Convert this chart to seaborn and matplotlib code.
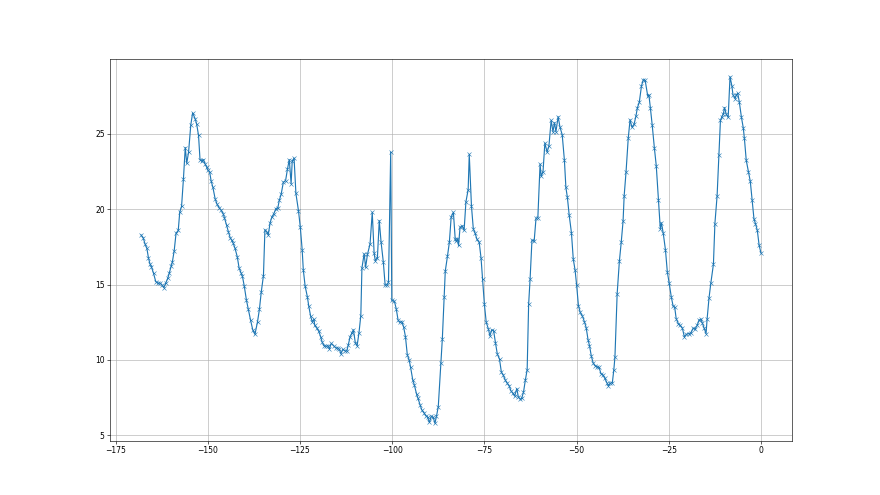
import matplotlib
matplotlib.use("Agg")
import matplotlib.pyplot as plt
import seaborn as sns
import pandas as pd

hours = [
    -168.1, -167.5, -167.0, -166.5, -166.1, -165.7, -165.3, -164.7, -164.1, -163.5,
    -162.9, -162.5, -161.9, -161.4, -160.8, -160.4, -159.9, -159.6, -159.1, -158.6,
    -158.0, -157.6, -157.1, -156.6, -156.1, -155.7, -155.2, -154.6, -154.1, -153.4,
    -153.0, -152.5, -152.1, -151.6, -151.2, -150.7, -150.3, -150.0, -149.5, -149.1,
    -148.6, -148.0, -147.5, -146.9, -146.4, -145.8, -145.5, -144.9, -144.4, -143.9,
    -143.5, -143.1, -142.6, -142.0, -141.5, -141.0, -140.6, -140.1, -139.5, -139.0,
    -138.4, -137.8, -137.2, -136.5, -136.0, -135.5, -134.9, -134.5, -134.0, -133.6,
    -133.1, -132.6, -132.1, -131.5, -131.0, -130.6, -130.1, -129.5, -128.9, -128.4,
    -127.9, -127.4, -127.1, -126.6, -126.1, -125.4, -124.9, -124.4, -124.1, -123.6,
    -123.0, -122.6, -122.1, -121.7, -121.2, -121.0, -120.4, -119.9, -119.4, -119.0,
    -118.5, -117.9, -117.4, -117.0, -116.5, -115.9, -115.3, -114.8, -114.3, -113.9,
    -113.4, -112.8, -112.3, -111.9, -111.4, -110.9, -110.5, -110.0, -109.5, -109.0,
    -108.5, -108.2, -107.6, -107.2, -106.7, -106.0, -105.4, -104.9, -104.6, -104.0,
    -103.5, -103.0, -102.4, -101.9, -101.4, -101.0, -100.4, -100.1, -99.4, -98.9,
    -98.4, -98.0, -97.4, -96.9, -96.4, -95.9, -95.4, -95.0, -94.4, -94.0,
    -93.4, -93.0, -92.4, -92.0, -91.4, -90.9, -90.4, -89.9, -89.4, -88.9,
    -88.4, -88.0, -87.5, -86.8, -86.4, -85.9, -85.6, -85.0, -84.5, -84.0,
    -83.4, -82.9, -82.6, -82.3, -82.0, -81.6, -81.0, -80.5, -80.0, -79.4,
    -79.1, -78.5, -78.0, -77.5, -77.0, -76.4, -75.9, -75.5, -75.0, -74.5,
    -73.9, -73.5, -73.0, -72.5, -72.0, -71.5, -70.9, -70.4, -69.9, -69.3,
    -68.8, -68.3, -67.8, -67.3, -66.8, -66.2, -65.8, -65.3, -64.9, -64.4,
    -63.9, -63.4, -63.0, -62.6, -62.1, -61.5, -61.0, -60.5, -59.9, -59.6,
    -59.1, -58.6, -58.0, -57.5, -56.9, -56.4, -56.0, -55.6, -55.0, -54.5,
    -53.9, -53.3, -52.9, -52.5, -52.0, -51.4, -50.9, -50.4, -50.0, -49.5,
    -49.0, -48.4, -47.9, -47.4, -46.9, -46.5, -46.0, -45.5, -44.9, -44.4,
    -43.9, -43.4, -42.8, -42.4, -41.8, -41.4, -40.9, -40.3, -39.9, -39.6,
    -39.0, -38.4, -37.9, -37.4, -37.1, -36.6, -36.0, -35.5, -35.0, -34.4,
    -33.9, -33.5, -33.0, -32.4, -31.9, -31.4, -30.7, -30.4, -30.0, -29.5,
    -28.9, -28.4, -27.8, -27.3, -27.0, -26.5, -25.9, -25.4, -24.9, -24.3,
    -23.8, -23.4, -23.0, -22.4, -21.9, -21.3, -20.8, -20.2, -19.6, -19.0,
    -18.4, -17.9, -17.3, -16.8, -16.3, -15.9, -15.4, -14.9, -14.6, -14.1,
    -13.6, -12.9, -12.5, -11.9, -11.4, -11.0, -10.6, -10.2, -9.9, -9.4,
    -8.9, -8.4, -7.9, -7.6, -7.0, -6.7, -6.3, -5.9, -5.3, -4.8,
    -4.5, -4.0, -3.4, -2.9, -2.4, -1.9, -1.5, -1.0, -0.5, 0.0,
]

values = [
    18.3, 18.1, 17.7, 17.4, 16.8, 16.4, 16.2, 15.75, 15.2, 15.1,
    15.1, 15.0, 14.8, 15.1, 15.45, 15.8, 16.25, 16.5, 17.25, 18.4,
    18.6, 19.8, 20.2, 22.0, 24.1, 23.05, 23.8, 25.6, 26.4, 26.0,
    25.65, 24.9, 23.3, 23.2, 23.3, 23.0, 22.8, 22.6, 22.5, 21.9,
    21.45, 20.7, 20.35, 20.1, 19.95, 19.7, 19.45, 18.95, 18.5, 18.1,
    17.95, 17.75, 17.4, 16.85, 16.1, 15.8, 15.55, 14.9, 13.95, 13.35,
    12.65, 12.0, 11.7, 12.55, 13.35, 14.5, 15.6, 18.65, 18.5, 18.3,
    19.1, 19.5, 19.7, 20.05, 20.1, 20.6, 21.0, 21.8, 21.9, 22.65,
    23.3, 21.7, 23.2, 23.4, 21.05, 19.9, 18.8, 17.3, 16.0, 14.9,
    14.2, 13.55, 12.9, 12.55, 12.7, 12.3, 12.1, 11.9, 11.55, 11.2,
    10.95, 10.9, 10.95, 10.75, 11.1, 10.95, 10.8, 10.8, 10.7, 10.4,
    10.7, 10.6, 10.6, 11.0, 11.55, 11.8, 12.0, 11.15, 10.95, 11.8,
    12.95, 16.1, 17.05, 16.15, 17.0, 17.7, 19.8, 17.1, 16.6, 16.8,
    19.25, 17.8, 16.5, 14.95, 15.0, 15.15, 23.8, 13.95, 13.9, 13.4,
    12.65, 12.5, 12.55, 12.2, 11.55, 10.35, 10.0, 9.5, 8.65, 8.35,
    7.75, 7.45, 7.0, 6.7, 6.5, 6.3, 6.2, 5.85, 6.25, 6.2,
    5.8, 6.25, 6.9, 9.8, 11.4, 14.2, 15.9, 16.9, 17.8, 19.5,
    19.8, 18.0, 17.9, 18.05, 17.6, 18.8, 18.9, 18.6, 20.5, 21.3,
    23.65, 20.2, 18.7, 18.4, 18.0, 17.8, 16.75, 15.35, 13.7, 12.5,
    12.05, 11.6, 12.0, 11.95, 11.15, 10.4, 10.05, 9.2, 9.0, 8.65,
    8.45, 8.3, 7.95, 7.8, 7.6, 8.1, 7.55, 7.4, 7.45, 7.85,
    8.65, 9.35, 13.7, 15.4, 17.95, 17.9, 19.4, 19.45, 23.0, 22.2,
    22.5, 24.4, 23.8, 24.2, 25.9, 25.15, 25.75, 25.15, 26.15, 25.45,
    24.95, 23.25, 21.45, 20.8, 19.6, 18.45, 16.7, 15.95, 15.0, 13.6,
    13.15, 12.9, 12.55, 12.15, 11.35, 10.95, 10.25, 9.8, 9.6, 9.55,
    9.5, 9.1, 9.0, 8.8, 8.5, 8.3, 8.45, 8.5, 9.35, 10.2,
    14.4, 16.55, 17.8, 19.2, 20.9, 22.45, 24.7, 25.95, 25.45, 25.65,
    26.2, 26.75, 27.1, 28.2, 28.6, 28.55, 27.5, 27.6, 26.75, 25.6,
    24.05, 22.9, 20.6, 18.7, 19.1, 18.4, 17.3, 15.85, 15.1, 14.15,
    13.55, 13.5, 12.75, 12.4, 12.3, 12.1, 11.55, 11.7, 11.75, 11.8,
    12.1, 12.05, 12.3, 12.65, 12.7, 12.45, 12.1, 11.75, 12.75, 14.1,
    15.1, 16.35, 19.05, 20.9, 23.6, 25.9, 26.15, 26.35, 26.75, 26.3,
    26.1, 28.8, 28.2, 27.6, 27.35, 27.6, 27.7, 27.15, 26.1, 25.4,
    24.7, 23.25, 22.5, 21.85, 20.6, 19.35, 19.05, 18.6, 17.6, 17.1,
]

df = pd.DataFrame({"hour": hours, "value": values})

fig, ax = plt.subplots(figsize=(16, 9), dpi=55)
sns.lineplot(data=df, x="hour", y="value", ax=ax, marker="x",
             color="#1f77b4", markeredgecolor="#1f77b4", markeredgewidth=0.75,
             markersize=6, linewidth=1.5, sort=False)
ax.set_xlabel("")
ax.set_ylabel("")
ax.grid(True)
fig.savefig("out.png", dpi=55)
